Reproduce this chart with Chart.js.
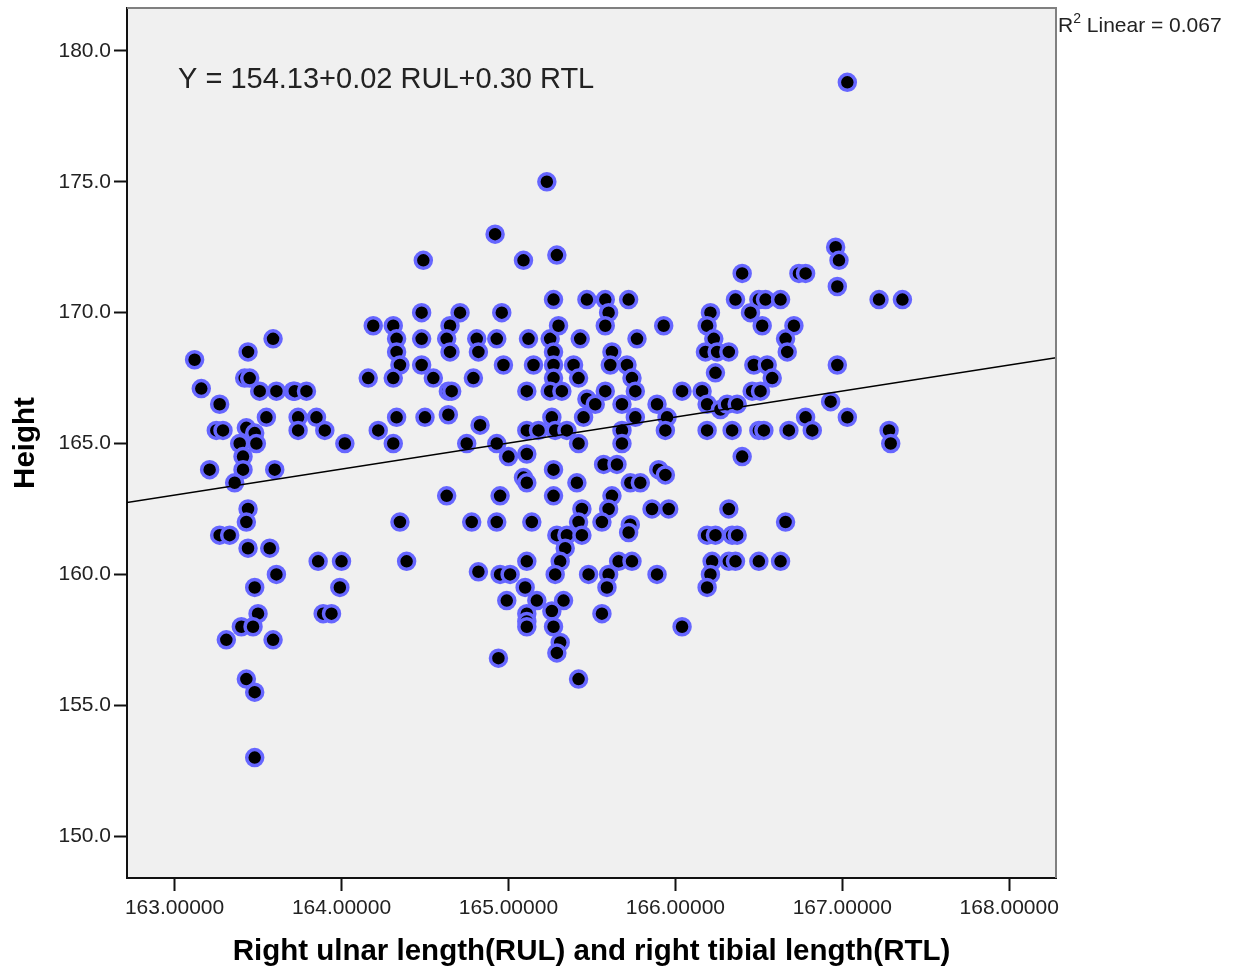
<!DOCTYPE html>
<html lang="en">
<head>
    <meta charset="UTF-8">
    <title>Height vs RUL and RTL</title>
    <script src="https://cdn.jsdelivr.net/npm/chart.js"></script>
    <style>
        body {
            margin: 0;
            padding: 0;
            background: #ffffff;
        }
        .chart-box {
            width: 1239px;
            height: 972px;
            position: relative;
        }
    </style>
</head>
<body>
    <div class="chart-box">
        <canvas id="scatterChart"></canvas>
    </div>

    <script>
        // predicted value from RUL + RTL (x) and measured height (y)
        const predicted = [
            163.12, 163.16, 163.27, 163.25, 163.29, 163.44, 163.59, 163.42, 163.45, 163.51,
            163.61, 163.71, 163.72, 163.79, 163.55, 163.74, 163.85, 163.74, 163.90, 164.02,
            163.43, 163.48, 163.39, 163.49, 163.41, 163.41, 163.21, 163.60, 163.36, 163.44,
            163.43, 163.27, 163.33, 163.44, 163.57, 163.61, 163.48, 163.86, 164.00, 163.99,
            163.89, 163.94, 163.50, 163.40, 163.47, 163.31, 163.59, 163.43, 163.48, 163.48,
            164.35, 164.39, 164.19, 164.31, 164.33, 164.33, 164.35, 164.31, 164.16, 164.48,
            164.71, 164.65, 164.48, 164.63, 164.65, 164.48, 164.55, 164.64, 164.66, 164.33,
            164.50, 164.64, 164.22, 164.31, 164.75, 164.63, 164.92, 165.09, 165.29, 164.49,
            165.27, 165.47, 165.58, 165.72, 165.60, 165.58, 165.93, 164.96, 164.81, 164.93,
            165.12, 165.25, 165.30, 165.43, 165.77, 164.82, 165.27, 165.62, 164.97, 165.15,
            165.27, 165.39, 165.61, 165.71, 164.79, 165.27, 165.42, 165.74, 165.11, 165.25,
            165.32, 165.58, 165.76, 165.47, 165.52, 165.68, 165.89, 165.26, 165.45, 165.76,
            165.95, 164.83, 165.11, 165.18, 165.28, 165.35, 165.68, 165.94, 164.93, 165.42,
            165.68, 165.00, 165.11, 165.57, 165.65, 165.27, 165.90, 165.09, 165.11, 165.41,
            165.73, 165.79, 165.94, 164.95, 165.27, 165.62, 165.60, 165.44, 165.42, 165.56,
            165.86, 165.96, 164.78, 164.93, 165.14, 165.29, 165.35, 165.44, 165.73, 165.72,
            165.34, 165.31, 165.11, 165.28, 165.48, 165.60, 165.66, 165.74, 165.89, 164.82,
            164.95, 165.01, 165.10, 165.59, 164.99, 165.17, 165.33, 165.26, 165.11, 165.11,
            165.11, 165.27, 165.31, 165.29, 165.56, 164.94, 165.42, 166.96, 166.98, 166.97,
            166.40, 166.74, 166.78, 167.22, 167.36, 166.36, 166.50, 166.54, 166.63, 166.21,
            166.45, 166.19, 166.52, 166.71, 166.23, 166.66, 166.18, 166.25, 166.32, 166.67,
            166.47, 166.55, 166.97, 166.24, 166.58, 166.04, 166.16, 166.46, 166.51, 166.19,
            166.27, 166.31, 166.37, 166.93, 166.78, 167.03, 166.19, 166.34, 166.50, 166.53,
            166.68, 166.82, 167.28, 167.29, 166.40, 167.03, 165.23, 166.32, 166.66, 166.19,
            166.24, 166.34, 166.37, 166.22, 166.32, 166.36, 166.50, 166.63, 166.21, 166.19,
            166.04
        ];
        const height = [
            168.2, 167.1, 166.5, 165.5, 165.5, 168.5, 169.0, 167.5, 167.5, 167.0,
            167.0, 167.0, 167.0, 167.0, 166.0, 166.0, 166.0, 165.5, 165.5, 165.0,
            165.6, 165.4, 165.0, 165.0, 164.5, 164.0, 164.0, 164.0, 163.5, 162.5,
            162.0, 161.5, 161.5, 161.0, 161.0, 160.0, 159.5, 160.5, 160.5, 159.5,
            158.5, 158.5, 158.5, 158.0, 158.0, 157.5, 157.5, 156.0, 155.5, 153.0,
            162.0, 160.5, 169.5, 169.5, 169.0, 168.5, 168.0, 167.5, 167.5, 170.0,
            170.0, 169.5, 169.0, 169.0, 168.5, 168.0, 167.5, 167.0, 167.0, 166.0,
            166.0, 166.1, 165.5, 165.0, 165.0, 163.0, 173.0, 172.0, 172.2, 172.0,
            170.5, 170.5, 170.5, 170.5, 170.0, 169.5, 169.5, 170.0, 169.0, 169.0,
            169.0, 169.0, 169.5, 169.0, 169.0, 168.5, 168.5, 168.5, 168.0, 168.0,
            168.0, 168.0, 168.0, 168.0, 167.5, 167.5, 167.5, 167.5, 167.0, 167.0,
            167.0, 167.0, 167.0, 166.7, 166.5, 166.5, 166.5, 166.0, 166.0, 166.0,
            166.0, 165.7, 165.5, 165.5, 165.5, 165.5, 165.5, 165.5, 165.0, 165.0,
            165.0, 164.5, 164.6, 164.2, 164.2, 164.0, 164.0, 163.7, 163.5, 163.5,
            163.5, 163.5, 163.8, 163.0, 163.0, 163.0, 162.5, 162.5, 162.0, 162.0,
            162.5, 162.5, 162.0, 162.0, 162.0, 161.5, 161.5, 161.5, 161.9, 161.6,
            161.0, 160.5, 160.5, 160.0, 160.0, 160.0, 160.5, 160.5, 160.0, 160.1,
            160.0, 160.0, 159.5, 159.5, 159.0, 159.0, 159.0, 158.6, 158.5, 158.2,
            158.0, 158.0, 157.4, 157.0, 158.5, 156.8, 156.0, 172.5, 172.0, 171.0,
            171.5, 171.5, 171.5, 170.5, 170.5, 170.5, 170.5, 170.5, 170.5, 170.0,
            170.0, 169.5, 169.5, 169.5, 169.0, 169.0, 168.5, 168.5, 168.5, 168.5,
            168.0, 168.0, 168.0, 167.7, 167.5, 167.0, 167.0, 167.0, 167.0, 166.5,
            166.3, 166.5, 166.5, 166.6, 166.0, 166.0, 165.5, 165.5, 165.5, 165.5,
            165.5, 165.5, 165.5, 165.0, 164.5, 178.8, 175.0, 162.5, 162.0, 161.5,
            161.5, 161.5, 161.5, 160.5, 160.5, 160.5, 160.5, 160.5, 160.0, 159.5,
            158.0
        ];

        // fit line ends, read at the plot edges
        const fitX = [162.715, 168.28];
        const fitY = [162.75, 168.28];

        const xTicks = [163, 164, 165, 166, 167, 168];
        const yTicks = [150, 155, 160, 165, 170, 175, 180];

        const equationText = "Y = 154.13+0.02 RUL+0.30 RTL";
        const r2Text = "0.067";

        const fontName = "'Liberation Sans', Arial, sans-serif";

        const points = predicted.map((x, i) => ({ x: x, y: height[i] }));
        const fitLine = fitX.map((x, i) => ({ x: x, y: fitY[i] }));

        // grey plot background, frame and the two text labels
        const framePlugin = {
            id: "frame",
            beforeDraw(chart) {
                const { ctx, chartArea: a } = chart;
                ctx.save();
                ctx.fillStyle = "#f0f0f0";
                ctx.fillRect(a.left, a.top, a.right - a.left, a.bottom - a.top);
                ctx.restore();
            },
            afterDraw(chart) {
                const { ctx, chartArea: a } = chart;
                ctx.save();
                ctx.strokeStyle = "#808080";
                ctx.lineWidth = 2;
                ctx.beginPath();
                ctx.moveTo(a.left, a.top);
                ctx.lineTo(a.right, a.top);
                ctx.lineTo(a.right, a.bottom);
                ctx.stroke();

                ctx.fillStyle = "#222";
                ctx.textBaseline = "middle";
                ctx.font = "29px " + fontName;
                ctx.fillText(equationText, 178, 80);

                let x = a.right + 2;
                ctx.font = "21px " + fontName;
                ctx.fillText("R", x, 26);
                x += ctx.measureText("R").width;
                ctx.font = "14px " + fontName;
                ctx.fillText("2", x, 19);
                x += ctx.measureText("2").width;
                ctx.font = "21px " + fontName;
                ctx.fillText(" Linear = " + r2Text, x, 26);
                ctx.restore();
            }
        };

        const ctx = document.getElementById("scatterChart").getContext("2d");

        new Chart(ctx, {
            type: "scatter",
            data: {
                datasets: [
                    {
                        type: "line",
                        data: fitLine,
                        borderColor: "#000",
                        borderWidth: 1.5,
                        pointRadius: 0,
                        fill: false,
                        order: 0
                    },
                    {
                        data: points,
                        backgroundColor: "#000",
                        borderColor: "#6666ff",
                        borderWidth: 3.5,
                        pointRadius: 8,
                        order: 1
                    }
                ]
            },
            options: {
                responsive: true,
                maintainAspectRatio: false,
                animation: false,
                layout: {
                    autoPadding: false,
                    padding: { left: 0, right: 183, top: 8, bottom: 0 }
                },
                plugins: {
                    legend: { display: false },
                    tooltip: { enabled: false }
                },
                scales: {
                    x: {
                        type: "linear",
                        min: 162.715,
                        max: 168.28,
                        afterBuildTicks: s => { s.ticks = xTicks.map(v => ({ value: v })); },
                        afterFit: s => {
                            s.height = 94;
                            s.paddingLeft = 0;
                            s.paddingRight = 0;
                        },
                        border: { display: true, color: "#111", width: 2 },
                        grid: {
                            drawOnChartArea: false,
                            drawTicks: true,
                            tickLength: 13,
                            tickWidth: 2,
                            tickColor: "#111"
                        },
                        ticks: {
                            padding: 5,
                            color: "#222",
                            font: { family: fontName, size: 21 },
                            callback: v => v.toFixed(5)
                        },
                        title: {
                            display: true,
                            text: "Right ulnar length(RUL) and right tibial length(RTL)",
                            color: "#000",
                            font: { family: fontName, size: 29.5, weight: "bold" },
                            padding: { top: 0, bottom: 2 }
                        }
                    },
                    y: {
                        type: "linear",
                        min: 148.4,
                        max: 181.64,
                        afterBuildTicks: s => { s.ticks = yTicks.map(v => ({ value: v })); },
                        afterFit: s => {
                            s.width = 127;
                            s.paddingTop = 0;
                            s.paddingBottom = 0;
                        },
                        border: { display: true, color: "#111", width: 2 },
                        grid: {
                            drawOnChartArea: false,
                            drawTicks: true,
                            tickLength: 13,
                            tickWidth: 2,
                            tickColor: "#111"
                        },
                        ticks: {
                            padding: 3,
                            color: "#222",
                            font: { family: fontName, size: 21 },
                            callback: v => v.toFixed(1)
                        },
                        title: {
                            display: true,
                            text: "Height",
                            color: "#000",
                            font: { family: fontName, size: 29.5, weight: "bold" },
                            padding: { top: 8, bottom: 0 }
                        }
                    }
                }
            },
            plugins: [framePlugin]
        });
    </script>
</body>
</html>
